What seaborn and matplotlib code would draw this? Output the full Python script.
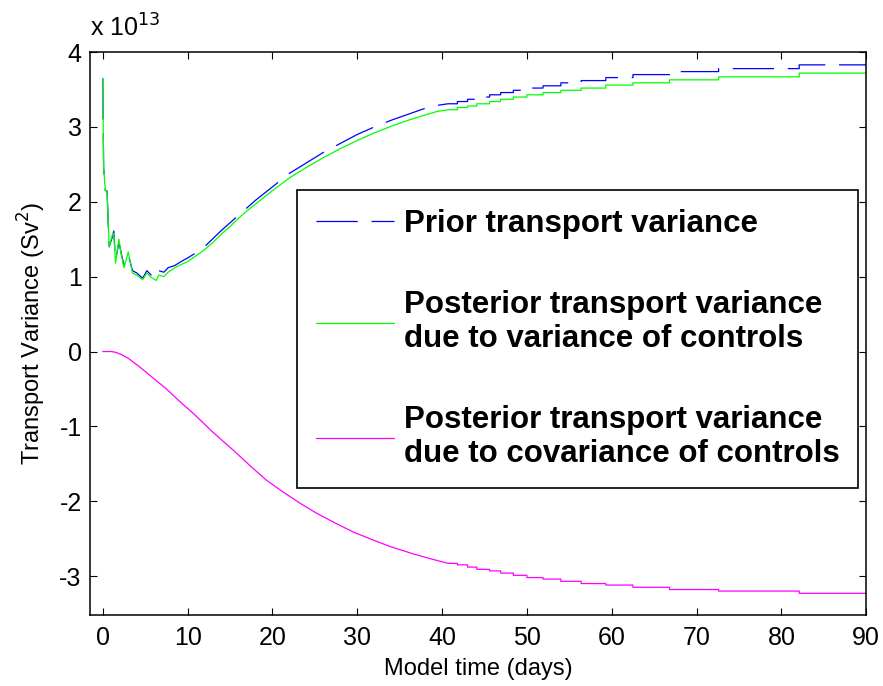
import matplotlib
matplotlib.use("Agg")
import matplotlib.pyplot as plt
import numpy as np
import pandas as pd
import seaborn as sns

# values in units of 1e13 Sv^2
t_early = [0, 0.05, 0.1, 0.3, 0.5, 0.6, 0.75, 1.1, 1.3, 1.5, 1.9, 2.2, 2.5, 3.0, 3.5,
           4.0, 4.7, 5.2, 5.7, 6.3, 6.6, 7.2, 7.7, 8.5, 9.2, 10, 11, 12, 13, 14, 15,
           16, 17, 18, 19, 20, 22, 24, 26, 28, 30, 32, 34, 36, 38, 39.5]
prior_early = [3.65, 3.0, 2.45, 2.15, 2.15, 1.85, 1.40, 1.52, 1.61, 1.21, 1.46, 1.30, 1.15,
               1.30, 1.08, 1.05, 0.98, 1.08, 1.02, 0.98, 1.08, 1.06, 1.12, 1.15, 1.20,
               1.25, 1.32, 1.40, 1.51, 1.62, 1.72, 1.82, 1.92, 2.02, 2.11, 2.20, 2.38,
               2.52, 2.66, 2.78, 2.90, 3.00, 3.09, 3.17, 3.25, 3.29]
post_var_early = [3.65, 3.0, 2.45, 2.15, 2.15, 1.85, 1.40, 1.55, 1.58, 1.18, 1.50, 1.28,
                  1.12, 1.33, 1.05, 1.02, 0.96, 1.05, 0.99, 0.95, 1.02, 1.00, 1.06, 1.12,
                  1.16, 1.20, 1.28, 1.36, 1.46, 1.57, 1.67, 1.78, 1.88, 1.97, 2.06, 2.15,
                  2.32, 2.46, 2.59, 2.71, 2.82, 2.92, 3.01, 3.09, 3.16, 3.21]

t_mag_early = [0, 1.0, 1.5, 2.2, 3.0, 4.4, 6.0, 7.5, 9.0, 10.7, 13.0, 15.4, 17.5, 19.3,
               21.3, 23.3, 25.2, 27.2, 29.5, 31.9, 34.0, 36.5, 38.7]
post_cov_early = [0.0, 0.0, -0.01, -0.04, -0.09, -0.21, -0.36, -0.50, -0.66, -0.83, -1.08,
                  -1.32, -1.54, -1.72, -1.88, -2.03, -2.16, -2.28, -2.41, -2.52, -2.61,
                  -2.70, -2.77]

# later part is a staircase: step times and the level held from each time on
t_steps = [40.7, 41.8, 43.0, 44.1, 45.6, 46.9, 48.4, 50.0, 51.9, 54.0, 56.4, 59.3,
           62.5, 66.8, 72.6, 82.1]
prior_levels = [3.31, 3.34, 3.37, 3.40, 3.43, 3.46, 3.49, 3.52, 3.55, 3.59, 3.62, 3.66,
                3.70, 3.74, 3.78, 3.83]
post_var_levels = [3.23, 3.26, 3.28, 3.31, 3.34, 3.37, 3.40, 3.43, 3.46, 3.49, 3.52,
                   3.56, 3.59, 3.63, 3.67, 3.72]
post_cov_levels = [-2.83, -2.85, -2.88, -2.91, -2.93, -2.96, -2.99, -3.02, -3.04, -3.07,
                   -3.10, -3.12, -3.15, -3.18, -3.20, -3.23]
t_end = 90

labels = ["Prior transport variance",
          "Posterior transport variance\ndue to variance of controls",
          "Posterior transport variance\ndue to covariance of controls"]


def build(t0, v0, levels):
    x = list(t0) + [t_steps[0]]
    y = list(v0) + [levels[0]]
    for i in range(1, len(t_steps)):
        x += [t_steps[i], t_steps[i]]
        y += [levels[i - 1], levels[i]]
    x.append(t_end)
    y.append(levels[-1])
    return x, y


sns.set_theme(style="ticks")
plt.rcParams['font.family'] = ['Liberation Sans', 'DejaVu Sans']
plt.rcParams['text.color'] = 'black'
plt.rcParams['axes.labelcolor'] = 'black'
plt.rcParams['axes.unicode_minus'] = False

fig = plt.figure(figsize=(8.83, 6.86), dpi=100)
ax = fig.add_axes([0.102, 0.1035, 0.879, 0.8205])

series = [(t_early, prior_early, prior_levels, '#0000ff'),
          (t_early, post_var_early, post_var_levels, '#00ff00'),
          (t_mag_early, post_cov_early, post_cov_levels, '#ff00ff')]
for (t0, v0, lev, col), lab in zip(series, labels):
    x, y = build(t0, v0, lev)
    df = pd.DataFrame({'t': x, 'v': y})
    sns.lineplot(data=df, x='t', y='v', sort=False, estimator=None, color=col,
                 linewidth=0.9, label=lab, ax=ax)

ax.lines[0].set_dashes([33, 11])

ax.set_xlim(-1.5, 90)
ax.set_ylim(-3.52, 4)
ax.set_xticks(np.arange(0, 91, 10))
ax.set_yticks(np.arange(-3, 5, 1))
ax.tick_params(direction='in', length=5, width=0.8, top=True, right=True,
               labelsize=18, colors='black')
ax.tick_params(axis='x', pad=8)
ax.tick_params(axis='y', pad=6)
for s in ax.spines.values():
    s.set_linewidth(1.1)
    s.set_color('black')
    s.set_visible(True)

ax.set_xlabel('Model time (days)', fontsize=17, labelpad=6)
ax.set_ylabel('Transport Variance (Sv$^2$)', fontsize=17, labelpad=8)
ax.text(0.0, 1.027, r'x 10$^{13}$', transform=ax.transAxes, fontsize=18,
        ha='left', va='baseline')

leg = ax.legend(loc='upper left', bbox_to_anchor=(0.267, 0.755),
                prop={'weight': 'bold', 'size': 22.5}, handlelength=2.5,
                handletextpad=0.3, labelspacing=1.65, borderpad=0.6,
                fancybox=False, framealpha=1, edgecolor='black', borderaxespad=0)
leg.get_frame().set_linewidth(1.2)
for txt in leg.get_texts():
    txt.set_linespacing(1.15)
    txt.set_color('black')

fig.savefig('out.png', dpi=100)
